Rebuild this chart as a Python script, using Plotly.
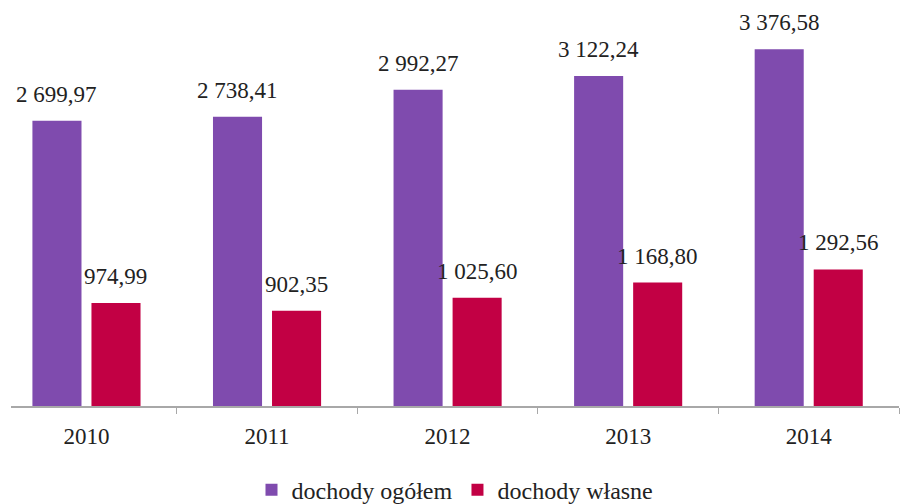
import plotly.graph_objects as go

years = ["2010", "2011", "2012", "2013", "2014"]
ogolem = [2699.97, 2738.41, 2992.27, 3122.24, 3376.58]
wlasne = [974.99, 902.35, 1025.60, 1168.80, 1292.56]
series_names = ["dochody ogółem", "dochody własne"]
colors = ["#7F4BAE", "#C20044"]

FONT = "Liberation Serif"


def fmt(v):
    s = f"{v:,.2f}"
    return s.replace(",", "\u00a0").replace(".", ",")


fig = go.Figure()
for name, vals, col in zip(series_names, [ogolem, wlasne], colors):
    fig.add_trace(go.Bar(x=years, y=vals, name=name, marker=dict(color=col, line=dict(width=0))))

slot_px = 59
annotations = []
for vals, shift in zip([ogolem, wlasne], [-slot_px / 2, slot_px / 2]):
    for idx, v in enumerate(vals):
        annotations.append(dict(
            x=idx, y=v, xref="x", yref="y", text=fmt(v), showarrow=False,
            xshift=shift, yshift=12, yanchor="bottom",
            font=dict(family=FONT, size=23, color="#222222"),
        ))

# page body has an 8px margin, so the figure is sized 8px smaller
fig.update_layout(
    width=905, height=496,
    margin=dict(l=3, r=14, t=0, b=98, autoexpand=False),
    paper_bgcolor="white", plot_bgcolor="white",
    barmode="group", bargap=0.346, bargroupgap=0.169,
    showlegend=True,
    legend=dict(orientation="h", x=0.5, xanchor="center", y=0.028, yanchor="middle",
                yref="container",
                font=dict(family=FONT, size=24, color="#222222"),
                itemwidth=30, traceorder="normal"),
    annotations=annotations,
    font=dict(family=FONT, size=23, color="#222222"),
)
fig.update_xaxes(
    type="category", range=[-0.418, 4.5],
    showline=True, linecolor="#A8A8A8", linewidth=2,
    ticks="outside", tickson="boundaries", ticklen=6, tickcolor="#A8A8A8", tickwidth=1,
    tickfont=dict(family=FONT, size=23, color="#222222"), ticklabelstandoff=8,
    showgrid=False, zeroline=False, automargin=False,
)
fig.update_yaxes(range=[0, 3767], visible=False, showgrid=False, zeroline=False)

fig.write_html("out.html")
